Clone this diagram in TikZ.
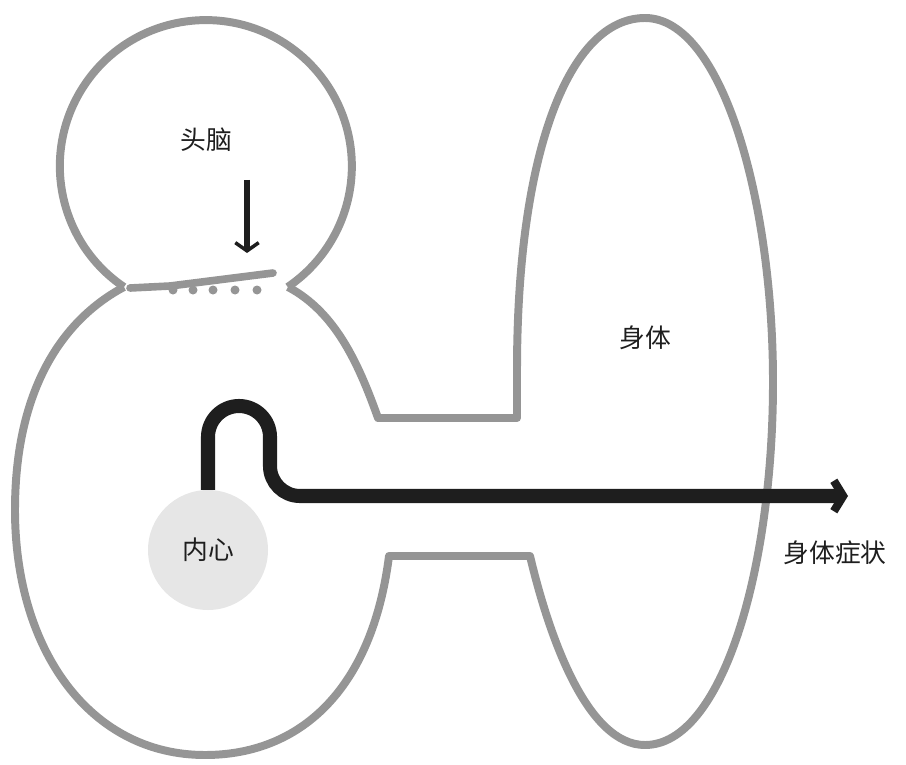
\documentclass[tikz,border=0pt]{standalone}
\usepackage{fontspec}
\setmainfont{Noto Sans CJK SC}
\usetikzlibrary{arrows.meta}
\definecolor{outl}{HTML}{959595}
\definecolor{inner}{HTML}{E6E6E6}
\definecolor{ink}{HTML}{1E1E1E}
\begin{document}
\begin{tikzpicture}[x=0.03cm,y=-0.03cm,
  outline/.style={draw=outl,line width=6.8pt,line join=round},
  lbl/.style={font=\fontsize{22}{24}\selectfont,text=ink},
  flow/.style={draw=ink,line width=12pt,-{Straight Barb[length=8pt,width=26pt,line width=7pt]}}]
\useasboundingbox (0,0) rectangle (906,764);
% head
\draw[outline] (124,287) arc[start angle=124.1,end angle=415.9,radius=146];
% left body and neck
\draw[outline] (288,287) .. controls (335,312) and (358,362) .. (378,418) -- (517,418) -- (517,370)
  .. controls (517,150) and (570,18) .. (645,18)
  .. controls (722,18) and (773,200) .. (773,382)
  .. controls (773,570) and (722,745) .. (645,745)
  .. controls (588,745) and (550,640) .. (530,556)
  -- (389,556) .. controls (372,690) and (300,755) .. (205,755)
  .. controls (90,755) and (15,650) .. (15,510)
  .. controls (15,390) and (62,320) .. (124,287);
% barrier
\draw[draw=outl,line width=6.5pt,line cap=round] (130,288) -- (170,286) -- (273,273);
\foreach \x in {173,193,213,235,257} \fill[outl] (\x,290) circle[radius=4.5];
% labels
\node[lbl] (head) at (206,140) {头脑};
\node[lbl] (body) at (645,338) {身体};
\node[circle,fill=inner,minimum size=3.6cm,inner sep=0,lbl] (heart) at (208,550) {内心};
\node[lbl] (sym) at (835,553) {身体症状};
\coordinate (a1) at (247,180);
\coordinate (a2) at (247,253);
\draw[draw=ink,line width=4.5pt,-{Straight Barb[length=7pt,width=20pt,line width=3pt]}] (a1) -- (a2);
\coordinate (tip) at (848,496);
\draw[flow] (heart.north) -- (208,437) arc[start angle=180,end angle=360,radius=31] -- (270,466)
  arc[start angle=180,end angle=90,radius=30] -- (tip);
\end{tikzpicture}
\end{document}
